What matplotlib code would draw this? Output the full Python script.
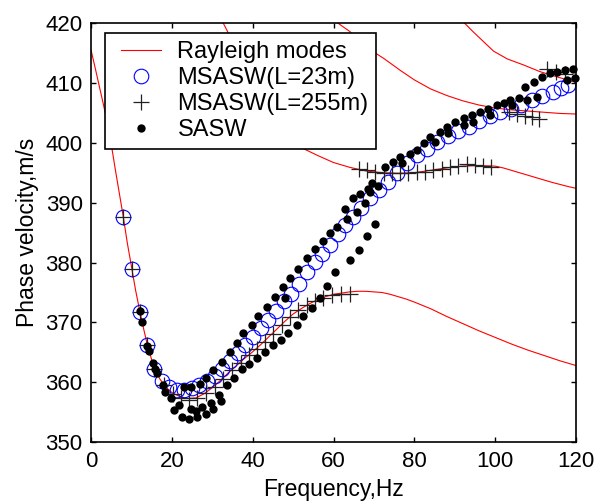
import matplotlib
matplotlib.use('Agg')
import matplotlib.pyplot as plt
from matplotlib.legend_handler import HandlerLine2D
from matplotlib.lines import Line2D

plt.rcParams['font.family'] = ['Liberation Sans', 'DejaVu Sans']

# ---------------- data ----------------
mode1_f = [0, 1, 2, 3, 4, 5, 6, 7, 8, 9, 10, 11, 12, 13, 14, 15, 16, 17, 18, 19, 20, 22, 24, 26, 28, 30,
           32, 34, 36, 38, 40, 42, 44, 46, 48, 50, 52, 54, 56, 58, 60, 62, 64, 66, 68, 70, 72, 74, 76,
           78, 80, 84, 88, 92, 96, 100, 104, 108, 112, 116, 120]
mode1_v = [415.5, 412.6, 409.6, 406.6, 403.5, 399.8, 395.6, 391.6, 387.6, 383.2, 379.4, 375.5, 372.1,
           369.0, 366.1, 363.8, 362.0, 360.6, 359.6, 358.9, 358.3, 357.6, 357.3, 357.4, 358.1, 359.1,
           360.3, 361.6, 362.8, 364.0, 365.1, 366.3, 367.6, 368.9, 370.2, 371.4, 372.3, 373.1, 373.8,
           374.3, 374.7, 374.9, 375.1, 375.2, 375.2, 375.1, 375.0, 374.7, 374.3, 373.9, 373.4, 372.3,
           371.0, 369.8, 368.6, 367.5, 366.4, 365.4, 364.5, 363.6, 362.8]

mode2_f = [32.7, 34, 36, 40, 44, 48, 52, 56, 60, 64, 68, 72, 76, 80, 84, 88, 92, 96, 100, 102, 106,
           110, 114, 118, 120]
mode2_v = [420.0, 418.3, 416.0, 411.5, 407.2, 403.0, 399.2, 397.9, 396.7, 395.9, 395.3, 395.0, 394.9,
           395.0, 395.4, 395.8, 396.1, 396.2, 396.1, 395.8, 395.0, 394.2, 393.4, 392.7, 392.4]

mode3_f = [60, 64, 68, 72.4, 76.5, 80, 84, 88, 92, 96, 100, 104, 108, 112, 116, 120]
mode3_v = [420.5, 418.6, 416.0, 414.1, 412.1, 410.5, 409.0, 407.9, 407.0, 406.3, 405.8, 405.5, 405.3,
           405.1, 404.9, 404.8]

mode4_f = [91.5, 94.6, 97.1, 99.6, 103, 107, 111, 115.3, 120]
mode4_v = [420.6, 418.5, 416.9, 415.3, 414.0, 413.0, 411.9, 411.0, 410.1]

msasw23_f = [8.0, 10.2, 12.1, 13.9, 15.7, 17.6, 19.4, 21.2, 23.0, 24.9, 26.8, 28.7, 30.6, 32.5, 34.4,
             36.3, 38.2, 40.1, 42.0, 43.9, 45.8, 47.7, 49.6, 51.5, 53.4, 55.3, 57.2, 59.1, 61.0, 62.9,
             64.9, 66.9, 69.0, 71.2, 73.5, 75.8, 78.2, 80.7, 83.2, 85.7, 88.3, 90.9, 93.5, 96.1, 98.7,
             101.3, 103.9, 106.5, 109.1, 111.7, 114.2, 116.4, 118.0]
msasw23_v = [387.6, 379.0, 371.8, 366.2, 362.2, 360.2, 359.2, 358.8, 358.7, 359.0, 359.5, 360.2, 361.1,
             362.3, 363.6, 364.9, 366.2, 367.6, 369.0, 370.4, 371.9, 373.6, 374.8, 376.5, 378.4, 380.1,
             381.5, 382.9, 384.7, 386.3, 387.6, 389.1, 390.7, 392.1, 393.4, 395.0, 396.6, 398.0, 399.0,
             400.1, 401.2, 402.0, 402.7, 403.6, 404.5, 405.1, 405.6, 406.3, 407.1, 407.8, 408.5, 409.2,
             409.6]

msasw255_f = [8.0, 10.2, 12.1, 13.9, 15.7, 18.0, 20.2, 22.2, 24.2, 26.2, 28.4, 30.6, 32.7, 34.8, 37.0,
              39.1, 41.1, 43.1, 45.1, 47.2, 49.3, 51.3, 53.4, 55.4, 57.5, 59.6, 61.8, 64.0,
              66.2, 68.2, 70.3, 72.4, 74.5, 76.5, 78.5, 80.6, 82.7, 84.7, 86.8, 88.9, 90.9, 93.0, 95.0,
              97.0, 99.0,
              103.4, 105.4, 107.3, 109.1, 110.9, 112.9, 115.0, 117.4]
msasw255_v = [387.6, 379.0, 371.8, 366.2, 362.2, 359.6, 358.0, 357.4, 357.1, 357.3, 358.2, 359.3, 360.6,
              362.0, 363.3, 364.5, 365.6, 366.8, 368.1, 369.5, 370.9, 372.0, 372.9, 373.6, 374.1, 374.5,
              374.8, 374.8,
              395.7, 395.4, 395.2, 395.0, 394.9, 394.9, 395.0, 395.2, 395.2, 395.4, 395.7, 396.0, 396.2,
              396.4, 396.3, 396.1, 396.0,
              405.2, 404.8, 404.5, 404.3, 403.9, 412.4, 411.9, 411.5]

sasw_f = [12.2, 12.5, 13.9, 14.3, 15.3, 15.8, 16.3, 17.8, 18.4, 19.7, 20.5, 21.8, 22.6, 24.3, 24.7,
          26.0, 26.2, 27.4, 28.4, 29.8, 30.1, 31.7, 32.2,
          23.0, 24.8, 26.9, 28.5, 30.3, 32.3, 34.4, 36.1, 37.7, 39.8, 41.4, 43.5, 45.5, 47.6, 49.3,
          51.3, 53.4, 55.4, 57.5, 59.2, 60.8, 62.9, 64.8, 66.6, 68.6, 69.5, 72.8, 74.8, 76.5, 79.0,
          80.6, 82.3, 83.9, 86.4, 88.0, 90.1, 92.2, 94.2, 96.3, 98.3, 100.4, 102.1, 103.7, 105.8,
          48.0, 63.3, 65.8, 67.8, 69.1, 71.0, 76.9, 85.1, 88.4, 92.2, 94.6, 98.8, 104.1, 107.8, 110.3,
          33.6, 35.4, 37.3, 39.2, 41.0, 43.1, 45.1, 46.9, 48.8, 50.9, 52.5, 54.6, 56.7, 58.4, 60.3,
          64.2, 66.2, 68.3, 70.3,
          107.4, 109.5, 111.6, 113.6, 115.3, 117.3, 119.2, 117.7, 119.8]
sasw_v = [371.9, 370.1, 366.1, 365.2, 363.2, 362.3, 361.6, 359.5, 358.3, 357.3, 355.3, 356.2, 354.2,
          353.9, 355.5, 355.2, 354.2, 355.8, 354.7, 356.5, 355.5, 357.8, 356.8,
          359.2, 359.3, 359.7, 360.7, 362.0, 363.4, 365.1, 366.5, 368.2, 369.6, 371.0, 372.6, 374.3,
          375.9, 377.5, 379.0, 380.7, 382.2, 383.6, 384.9, 386.0, 388.9, 390.7, 391.5, 392.2, 393.2,
          396.0, 396.8, 397.7, 398.2, 398.8, 400.0, 401.0, 401.8, 402.7, 403.5, 404.1, 404.6, 405.2,
          405.7, 406.3, 406.6, 407.1, 407.4,
          374.0, 387.2, 388.5, 389.9, 391.8, 392.8, 396.7, 400.2, 401.6, 403.0, 403.5, 404.7, 406.3,
          407.1, 407.7,
          359.6, 360.7, 362.2, 363.0, 364.0, 365.1, 366.2, 367.1, 368.3, 369.6, 371.0, 372.4, 374.0,
          376.0, 378.5, 380.4, 382.1, 384.4, 386.4,
          409.3, 410.2, 411.0, 411.6, 411.9, 412.1, 412.4, 410.5, 410.8]

x_ticks = [0, 20, 40, 60, 80, 100, 120]
y_ticks = [350, 360, 370, 380, 390, 400, 410, 420]

# ---------------- figure ----------------
FS = 16
LFS = 17
fig = plt.figure(figsize=(6.05, 5.03), dpi=100)
ax = fig.add_axes([91 / 605, 1 - 442.2 / 503, 485 / 605, 419.2 / 503])

red = '#ff0000'
ax.plot(mode1_f, mode1_v, color=red, lw=0.8, label='Rayleigh modes')
for mf, mv in [(mode2_f, mode2_v), (mode3_f, mode3_v), (mode4_f, mode4_v)]:
    ax.plot(mf, mv, color=red, lw=0.8)

ax.plot(msasw23_f, msasw23_v, linestyle='none', marker='o', markersize=10.5,
        markerfacecolor='none', markeredgecolor='#0000ff', markeredgewidth=0.8,
        label='MSASW(L=23m)', clip_on=False)
ax.plot(msasw255_f, msasw255_v, linestyle='none', marker='+', markersize=11,
        color='#222222', markeredgewidth=0.9, label='MSASW(L=255m)', clip_on=False)
ax.plot(sasw_f, sasw_v, linestyle='none', marker='o', markersize=6.0,
        color='black', markeredgewidth=0, label='SASW', clip_on=False)

ax.set_xlim(0, 120)
ax.set_ylim(350, 420)
ax.set_xticks(x_ticks)
ax.set_yticks(y_ticks)
ax.tick_params(direction='in', top=True, right=True, length=3.6, width=1.0,
               labelsize=FS, pad=6)
for s in ax.spines.values():
    s.set_linewidth(1.2)

ax.set_xlabel('Frequency,Hz', fontsize=16.5)
ax.set_ylabel('Phase velocity,m/s', fontsize=16.5)
ax.xaxis.set_label_coords(0.499, -0.086)
ax.yaxis.set_label_coords(-0.107, 0.5)

hmap = {Line2D: HandlerLine2D(xpad=0.34)}
leg = ax.legend(loc='upper left', bbox_to_anchor=((105 - 91) / 485, (442.2 - 33.3) / 419.2),
                borderaxespad=0, frameon=True, fancybox=False, edgecolor='black',
                framealpha=1, fontsize=LFS, handlelength=2.03, handletextpad=0.71,
                labelspacing=0.17, borderpad=0.33, handler_map=hmap)
leg.get_frame().set_linewidth(1.2)

fig.savefig('out.png', dpi=100)
